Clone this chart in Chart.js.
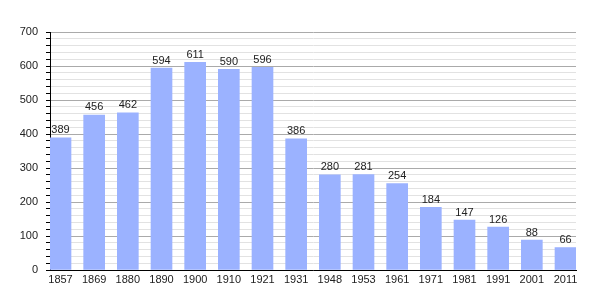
<!DOCTYPE html>
<html>
<head>
<meta charset="utf-8">
<script src="https://cdn.jsdelivr.net/npm/chart.js@4/dist/chart.umd.min.js"></script>
<style>
  html, body { margin: 0; padding: 0; background: #fff; }
  #wrap { width: 605px; height: 300px; }
</style>
</head>
<body>
<div id="wrap"><canvas id="popChart"></canvas></div>
<script>
const years = ['1857', '1869', '1880', '1890', '1900', '1910', '1921', '1931', '1948', '1953', '1961', '1971', '1981', '1991', '2001', '2011'];
const population = [389, 456, 462, 594, 611, 590, 596, 386, 280, 281, 254, 184, 147, 126, 88, 66];

// value labels above each bar
const barLabels = {
  id: 'barLabels',
  afterDatasetsDraw(chart) {
    const { ctx } = chart;
    const meta = chart.getDatasetMeta(0);
    ctx.save();
    ctx.font = '11px "Liberation Sans", Arial, sans-serif';
    ctx.fillStyle = '#222';
    ctx.textAlign = 'center';
    ctx.textBaseline = 'bottom';
    meta.data.forEach((bar, i) => {
      ctx.fillText(population[i], bar.x, bar.y - 2);
    });
    ctx.restore();
  }
};

const ctx = document.getElementById('popChart').getContext('2d');
new Chart(ctx, {
  type: 'bar',
  data: {
    datasets: [{
      data: population.map((v, i) => ({ x: i, y: v })),
      backgroundColor: '#9bb2ff',
      barThickness: 21
    }]
  },
  options: {
    responsive: true,
    maintainAspectRatio: false,
    animation: false,
    layout: { padding: { top: 32, right: 29, left: 0, bottom: 0 } },
    scales: {
      x: {
        type: 'linear',
        offset: false,
        min: -0.312,
        max: 15.312,
        grid: { display: false, drawTicks: false },
        border: { display: true, color: '#000', width: 1 },
        afterFit(scale) { scale.height = 30; },
        ticks: {
          stepSize: 1,
          includeBounds: false,
          autoSkip: false,
          maxRotation: 0,
          padding: 3,
          color: '#222',
          font: { family: '"Liberation Sans", Arial, sans-serif', size: 11 },
          callback: (value) => years[value]
        }
      },
      y: {
        min: 0,
        max: 700,
        afterFit(scale) { scale.width = 50; },
        grid: {
          color: (c) => (c.tick && c.tick.value % 100 === 0) ? '#aaa' : '#e2e2e2',
          tickColor: '#000',
          tickLength: 4
        },
        border: { display: true, color: '#000', width: 1 },
        ticks: {
          stepSize: 20,
          autoSkip: false,
          padding: 8,
          color: '#222',
          font: { family: '"Liberation Sans", Arial, sans-serif', size: 11 },
          callback: (value) => value % 100 === 0 ? value : ''
        }
      }
    },
    plugins: {
      legend: { display: false },
      tooltip: { enabled: false }
    }
  },
  plugins: [barLabels]
});
</script>
</body>
</html>
